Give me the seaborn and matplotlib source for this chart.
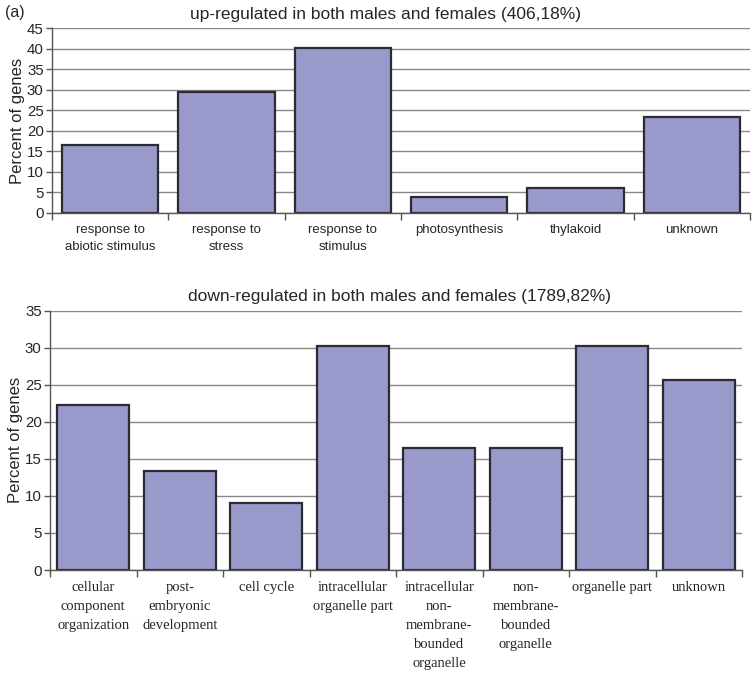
import matplotlib
matplotlib.use("Agg")
import matplotlib.pyplot as plt
import seaborn as sns
import pandas as pd
import numpy as np

sns.set_style("white")
plt.rcParams['font.family'] = ['Liberation Sans', 'DejaVu Sans']

up_categories = ["response to\nabiotic stimulus", "response to\nstress", "response to\nstimulus",
                 "photosynthesis", "thylakoid", "unknown"]
up_values = [16.6, 29.4, 40.2, 4.0, 6.1, 23.4]
up_title = "up-regulated in both males and females (406,18%)"
up_yticks = [0, 5, 10, 15, 20, 25, 30, 35, 40, 45]

down_categories = ["cellular\ncomponent\norganization", "post-\nembryonic\ndevelopment", "cell cycle",
                   "intracellular\norganelle part", "intracellular\nnon-\nmembrane-\nbounded\norganelle",
                   "non-\nmembrane-\nbounded\norganelle", "organelle part", "unknown"]
down_values = [22.3, 13.4, 9.1, 30.2, 16.5, 16.5, 30.2, 25.6]
down_title = "down-regulated in both males and females (1789,82%)"
down_yticks = [0, 5, 10, 15, 20, 25, 30, 35]

BAR = "#9999cc"
EDGE = "#2b2b33"
GRID = "#888888"
AXC = "#555555"

fig = plt.figure(figsize=(7.52, 6.75), dpi=100)
ax1 = fig.add_axes([52/752, 1-213/675, (750-52)/752, (213-28)/675])
ax2 = fig.add_axes([50/752, 1-570/675, (742-50)/752, (570-310.7)/675])


def draw(ax, cats, vals, yticks, ymax, serif, lsp):
    df = pd.DataFrame({"cat": cats, "val": vals})
    ax.set_axisbelow(True)
    sns.barplot(data=df, x="cat", y="val", ax=ax, color=BAR, saturation=1,
                edgecolor=EDGE, linewidth=1.6, width=0.83)
    n = len(cats)
    ax.set_xlim(-0.5, n - 0.5)
    ax.set_ylim(0, ymax)
    ax.set_yticks(yticks)
    ax.yaxis.grid(True, color=GRID, linewidth=1.0)
    ax.xaxis.grid(False)
    for s in ["top", "right"]:
        ax.spines[s].set_visible(False)
    for s in ["left", "bottom"]:
        ax.spines[s].set_color(AXC)
        ax.spines[s].set_linewidth(1.0)
    ax.set_xlabel("")
    ax.set_ylabel("Percent of genes", fontsize=12, labelpad=1)
    ax.tick_params(axis="y", which="major", length=4, width=1, color=AXC,
                   labelsize=10.8, pad=2, left=True)
    ax.set_xticks(np.arange(n))
    if serif:
        ax.set_xticklabels(cats, fontsize=10.5, family=['Liberation Serif', 'DejaVu Serif'],
                           linespacing=lsp, va="top")
    else:
        ax.set_xticklabels(cats, fontsize=9.5, linespacing=lsp, va="top")
    ax.tick_params(axis="x", which="major", length=0, pad=8)
    ax.set_xticks(np.arange(n + 1) - 0.5, minor=True)
    ax.tick_params(axis="x", which="minor", length=5, width=1, color=AXC, bottom=True)


draw(ax1, up_categories, up_values, up_yticks, 45, False, 1.5)
draw(ax2, down_categories, down_values, down_yticks, 35, True, 1.6)

fig.text(386/752, 1-14/675, up_title, ha="center", va="center", fontsize=12.5)
fig.text(400/752, 1-296/675, down_title, ha="center", va="center", fontsize=12.5)
fig.text(5/752, 1-12/675, "(a)", ha="left", va="center", fontsize=11.5)

fig.savefig("out.png", dpi=100)
